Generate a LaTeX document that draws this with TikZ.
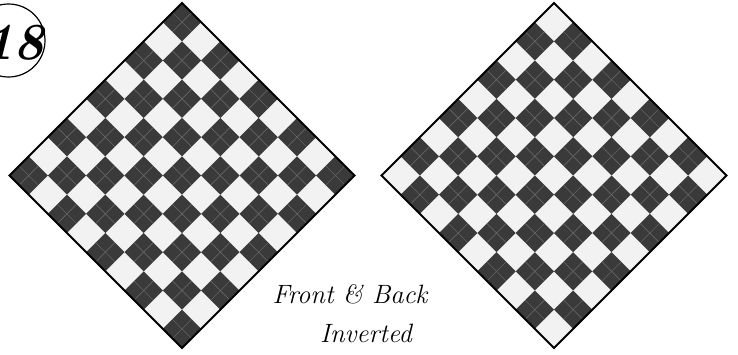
\documentclass[tikz,border=0pt]{standalone}
\usepackage{tikz}
\definecolor{darksq}{HTML}{3A3A3A}
\definecolor{lightsq}{HTML}{F2F2F2}
\definecolor{creaseln}{HTML}{6E6E6E}
\tikzset{
  board/.style={x=27.11pt,y=27.11pt,rotate=45},
  darkcell/.style={fill=darksq},
  crease/.style={draw=creaseln,line width=0.5pt},
  rim/.style={draw=black,line width=2pt,line join=miter},
  caption/.style={font=\fontsize{26.5}{30}\selectfont\itshape,inner sep=0pt}
}
% checker board of 9x9 squares, dark when (i+j) mod 2 = #2
\newcommand{\checkboard}[3]{%
  \begin{scope}[shift={#1},board]
    \fill[lightsq] (-4.5,-4.5) rectangle (4.5,4.5);
    \foreach \i in {0,...,8}
      \foreach \j in {0,...,8} {
        \pgfmathtruncatemacro\cellkind{mod(\i+\j,2)}
        \ifnum\cellkind=#2
          \fill[darkcell] (\i-4.5,\j-4.5) rectangle ++(1,1);
          \draw[crease] (\i-4,\j-4.5) -- ++(0,1);
          \draw[crease] (\i-4.5,\j-4) -- ++(1,0);
        \fi
      }
    \draw[rim] (-4.5,-4.5) rectangle (4.5,4.5);
    \coordinate (#3) at (0,0);
  \end{scope}}

\begin{document}
\begin{tikzpicture}[x=1pt,y=-1pt]
\useasboundingbox (0,0) rectangle (738,354);

% the two boards
\checkboard{(182,175.5)}{0}{front}
\checkboard{(554,175.5)}{1}{back}

% step number
\node[circle,draw,line width=1.2pt,fill=white,minimum size=73pt,inner sep=0pt] (stepring) at (8.5,40.5) {};
\node[font=\fontsize{52}{52}\selectfont\bfseries\itshape,inner sep=0pt] (stepno) at (14,43) {18};

% caption
\node[caption,anchor=base] (capa) at (350,303) {Front \& Back};
\node[caption,anchor=base] (capb) at (366,342) {Inverted};
\end{tikzpicture}
\end{document}
